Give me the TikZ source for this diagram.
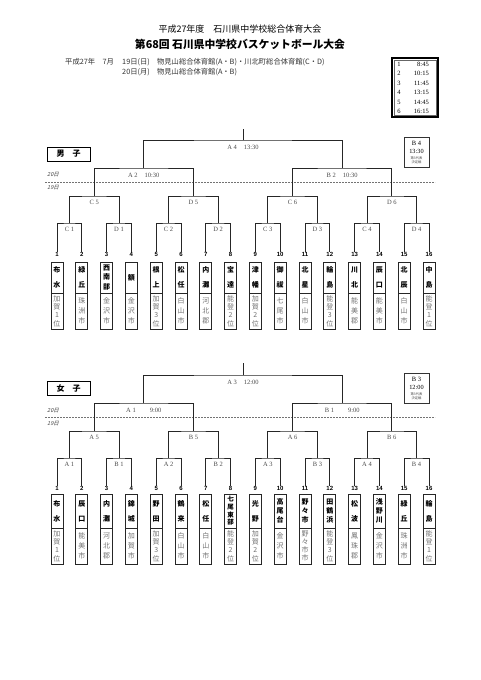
\documentclass[tikz,border=0pt]{standalone}
\usepackage{fontspec}
\setmainfont{Liberation Serif}
\newfontfamily\jp{Noto Sans CJK JP}
\newfontfamily\jpsl{Noto Sans CJK JP}[FakeSlant=0.25]
\newfontfamily\lsans{Liberation Sans}
\tikzset{
  br/.style={line width=0.8pt, draw=black!85},
  lbl/.style={font=\fontsize{6.5}{7}\selectfont, text=black!70, inner sep=0},
  num/.style={font=\lsans\bfseries\fontsize{6}{6}\selectfont, inner sep=0},
  nbox/.style={draw=black!85, line width=0.7pt, minimum width=12pt, inner sep=0, align=center, text width=10pt},
  n1/.style={font=\jp\bfseries\fontsize{7}{15}\selectfont},
  n2/.style={font=\jp\bfseries\fontsize{7}{15}\selectfont},
  n3/.style={font=\jp\bfseries\fontsize{7}{9.5}\selectfont},
  fn3/.style={font=\jp\bfseries\fontsize{7}{8.7}\selectfont},
  n4/.style={font=\jp\bfseries\fontsize{6.5}{7.6}\selectfont},
  p3/.style={font=\jp\fontsize{7}{10}\selectfont, text=black!55},
  p4/.style={font=\jp\fontsize{7}{8.3}\selectfont, text=black!55},
  daylbl/.style={font=\jpsl\fontsize{5.5}{6}\selectfont, text=black!75, inner sep=0},
  dayline/.style={draw=black!55, line width=0.5pt, dash pattern=on 2pt off 1pt},
  sexbox/.style={draw, line width=0.9pt, minimum width=43pt, minimum height=14pt, inner sep=0, font=\jp\bfseries\fontsize{8}{8}\selectfont},
  thirdbox/.style={draw=black!80, line width=0.6pt, minimum width=25pt, inner sep=0},
  tiny/.style={font=\jp\fontsize{3.3}{3.5}\selectfont, inner sep=0, text=black!70},
}
\newcommand\mteam[6]{%
  \node[num] (m#1num) at (#2,254) {#1};
  \node[nbox,#4,minimum height=31pt] (m#1n) at (#2,277.5) {#3};
  \node[nbox,#6,minimum height=36pt] (m#1p) at (#2,311) {#5};}
\newcommand\fteam[6]{%
  \node[num] (f#1num) at (#2,488) {#1};
  \node[nbox,#4,minimum height=34pt] (f#1n) at (#2,511) {#3};
  \node[nbox,#6,minimum height=36pt] (f#1p) at (#2,546) {#5};}
\begin{document}
\begin{tikzpicture}[x=1pt,y=-1pt]
\fill[white] (0,0) rectangle (481,680);
\useasboundingbox (0,0) rectangle (481,680);

% titles
\node[font=\jp\fontsize{9}{9}\selectfont] (t1) at (240,29) {平成27年度　石川県中学校総合体育大会};
\node[font=\jp\bfseries\fontsize{10.8}{11}\selectfont] (t2) at (240,44) {第68回 石川県中学校バスケットボール大会};
\node[font=\jp\fontsize{7.3}{8}\selectfont, anchor=west, inner sep=0, text=black!80] (d0) at (65,62) {平成27年　7月};
\node[font=\jp\fontsize{7.3}{8}\selectfont, anchor=west, inner sep=0, text=black!80] (d1) at (122,62) {19日(日)　物見山総合体育館(A・B)・川北町総合体育館(C・D)};
\node[font=\jp\fontsize{7.3}{8}\selectfont, anchor=west, inner sep=0, text=black!80] (d2) at (122,72) {20日(月)　物見山総合体育館(A・B)};

% time table
\draw[line width=1.3pt] (392,58) rectangle (438,117);
\draw[line width=0.4pt, black!60] (394,60) rectangle (436,115);
\foreach \r/\t [count=\k] in {1/8:45,2/10:15,3/11:45,4/13:15,5/14:45,6/16:15}{
  \node[font=\fontsize{6.5}{7}\selectfont, inner sep=0] (ttn\k) at (399,54.5+9.5*\k) {\r};
  \node[font=\fontsize{6.5}{7}\selectfont, inner sep=0, anchor=east] (ttt\k) at (429,54.5+9.5*\k) {\t};
}

% ================= MALE =================
\node[sexbox] (male) at (68.5,154) {男　子};
\node[daylbl] (m20) at (53,175) {20日};
\node[daylbl] (m19) at (53,188) {19日};
\coordinate (mdl1) at (45,182);
\coordinate (mdl2) at (435,182);
\draw[dayline] (mdl1) -- (mdl2);

\node[thirdbox, minimum height=30pt] (mB4) at (416.5,152) {};
\node[font=\fontsize{6.5}{7}\selectfont, inner sep=0] (mB4a) at (416.5,143) {B 4};
\node[font=\fontsize{6.3}{7}\selectfont, inner sep=0] (mB4b) at (416.5,151) {13:30};
\node[tiny] (mB4c) at (416.5,158.5) {第3代表};
\node[tiny] (mB4d) at (416.5,162.5) {決定戦};

\mteam{1}{57}{布\\水}{n2}{加\\賀\\1\\位}{p4}
\mteam{2}{81.8}{緑\\丘}{n2}{珠\\洲\\市}{p3}
\mteam{3}{106.6}{西\\南\\部}{n3}{金\\沢\\市}{p3}
\mteam{4}{131.4}{額}{n1}{金\\沢\\市}{p3}
\mteam{5}{156.2}{根\\上}{n2}{加\\賀\\3\\位}{p4}
\mteam{6}{181}{松\\任}{n2}{白\\山\\市}{p3}
\mteam{7}{205.8}{内\\灘}{n2}{河\\北\\郡}{p3}
\mteam{8}{230.6}{宝\\達}{n2}{能\\登\\2\\位}{p4}
\mteam{9}{255.4}{津\\幡}{n2}{加\\賀\\2\\位}{p4}
\mteam{10}{280.2}{御\\祓}{n2}{七\\尾\\市}{p3}
\mteam{11}{305}{北\\星}{n2}{白\\山\\市}{p3}
\mteam{12}{329.8}{輪\\島}{n2}{能\\登\\3\\位}{p4}
\mteam{13}{354.6}{川\\北}{n2}{能\\美\\郡}{p3}
\mteam{14}{379.4}{辰\\口}{n2}{能\\美\\市}{p3}
\mteam{15}{404.2}{北\\辰}{n2}{白\\山\\市}{p3}
\mteam{16}{429}{中\\島}{n2}{能\\登\\1\\位}{p4}

% level 1
\foreach \nm/\x/\a/\b in {C1/69.4/1/2, D1/119/3/4, C2/168.6/5/6, D2/218.2/7/8, C3/267.8/9/10, D3/317.4/11/12, C4/367/13/14, D4/416.6/15/16}{
  \coordinate (m\nm) at (\x,223);
  \draw[br] ([yshift=-0.6pt]m\a num.north) |- (m\nm) -| ([yshift=-0.6pt]m\b num.north);
}
\node[lbl] (mlC1) at (69.4,229.5) {C 1};
\node[lbl] (mlD1) at (119,229.5) {D 1};
\node[lbl] (mlC2) at (168.6,229.5) {C 2};
\node[lbl] (mlD2) at (218.2,229.5) {D 2};
\node[lbl] (mlC3) at (267.8,229.5) {C 3};
\node[lbl] (mlD3) at (317.4,229.5) {D 3};
\node[lbl] (mlC4) at (367,229.5) {C 4};
\node[lbl] (mlD4) at (416.6,229.5) {D 4};
% level 2
\foreach \nm/\x/\a/\b in {C5/94.2/C1/D1, D5/193.4/C2/D2, C6/292.6/C3/D3, D6/391.8/C4/D4}{
  \coordinate (m\nm) at (\x,196);
  \draw[br] (m\a) |- (m\nm) -| (m\b);
}
\node[lbl] (mlC5) at (94.2,202.5) {C 5};
\node[lbl] (mlD5) at (193.4,202.5) {D 5};
\node[lbl] (mlC6) at (292.6,202.5) {C 6};
\node[lbl] (mlD6) at (391.8,202.5) {D 6};
% level 3
\coordinate (mA2) at (143.8,168);
\coordinate (mB2) at (342.2,168);
\draw[br] (mC5) |- (mA2) -| (mD5);
\draw[br] (mC6) |- (mB2) -| (mD6);
\node[lbl] (mlA2) at (143.8,175) {A 2\hspace{7pt}10:30};
\node[lbl] (mlB2) at (342.2,175) {B 2\hspace{7pt}10:30};
% level 4
\coordinate (mA4) at (243,140);
\coordinate (mTop) at (243,129);
\draw[br] (mA2) |- (mA4) -| (mB2);
\draw[br] (mA4) -- (mTop);
\node[lbl] (mlA4) at (243,147.5) {A 4\hspace{7pt}13:30};

% ================= FEMALE =================
\node[sexbox] (female) at (68.5,388) {女　子};
\node[daylbl] (f20) at (53,411) {20日};
\node[daylbl] (f19) at (53,424) {19日};
\coordinate (fdl1) at (45,417);
\coordinate (fdl2) at (435,417);
\draw[dayline] (fdl1) -- (fdl2);

\node[thirdbox, minimum height=30pt] (fB3) at (416.5,388) {};
\node[font=\fontsize{6.5}{7}\selectfont, inner sep=0] (fB3a) at (416.5,379) {B 3};
\node[font=\fontsize{6.3}{7}\selectfont, inner sep=0] (fB3b) at (416.5,387) {12:00};
\node[tiny] (fB3c) at (416.5,394.5) {第3代表};
\node[tiny] (fB3d) at (416.5,398.5) {決定戦};

\fteam{1}{57}{布\\水}{n2}{加\\賀\\1\\位}{p4}
\fteam{2}{81.8}{辰\\口}{n2}{能\\美\\市}{p3}
\fteam{3}{106.6}{内\\灘}{n2}{河\\北\\郡}{p3}
\fteam{4}{131.4}{錦\\城}{n2}{加\\賀\\市}{p3}
\fteam{5}{156.2}{野\\田}{n2}{加\\賀\\3\\位}{p4}
\fteam{6}{181}{鶴\\来}{n2}{白\\山\\市}{p3}
\fteam{7}{205.8}{松\\任}{n2}{白\\山\\市}{p3}
\fteam{8}{230.6}{七\\尾\\東\\部}{n4}{能\\登\\2\\位}{p4}
\fteam{9}{255.4}{光\\野}{n2}{加\\賀\\2\\位}{p4}
\fteam{10}{280.2}{高\\尾\\台}{fn3}{金\\沢\\市}{p3}
\fteam{11}{305}{野\\々\\市}{fn3}{野\\々\\市\\市}{p4}
\fteam{12}{329.8}{田\\鶴\\浜}{fn3}{能\\登\\3\\位}{p4}
\fteam{13}{354.6}{松\\波}{n2}{鳳\\珠\\郡}{p3}
\fteam{14}{379.4}{浅\\野\\川}{fn3}{金\\沢\\市}{p3}
\fteam{15}{404.2}{緑\\丘}{n2}{珠\\洲\\市}{p3}
\fteam{16}{429}{輪\\島}{n2}{能\\登\\1\\位}{p4}

% level 1
\foreach \nm/\x/\a/\b in {A1/69.4/1/2, B1/119/3/4, A2/168.6/5/6, B2/218.2/7/8, A3/267.8/9/10, B3/317.4/11/12, A4/367/13/14, B4/416.6/15/16}{
  \coordinate (f\nm) at (\x,458);
  \draw[br] ([yshift=-0.6pt]f\a num.north) |- (f\nm) -| ([yshift=-0.6pt]f\b num.north);
}
\node[lbl] (flA1) at (69.4,464.5) {A 1};
\node[lbl] (flB1) at (119,464.5) {B 1};
\node[lbl] (flA2) at (168.6,464.5) {A 2};
\node[lbl] (flB2) at (218.2,464.5) {B 2};
\node[lbl] (flA3) at (267.8,464.5) {A 3};
\node[lbl] (flB3) at (317.4,464.5) {B 3};
\node[lbl] (flA4) at (367,464.5) {A 4};
\node[lbl] (flB4) at (416.6,464.5) {B 4};
% level 2
\foreach \nm/\x/\a/\b in {A5/94.2/A1/B1, B5/193.4/A2/B2, A6/292.6/A3/B3, B6/391.8/A4/B4}{
  \coordinate (f\nm) at (\x,431);
  \draw[br] (f\a) |- (f\nm) -| (f\b);
}
\node[lbl] (flA5) at (94.2,437.5) {A 5};
\node[lbl] (flB5) at (193.4,437.5) {B 5};
\node[lbl] (flA6) at (292.6,437.5) {A 6};
\node[lbl] (flB6) at (391.8,437.5) {B 6};
% level 3
\coordinate (fSA1) at (143.8,403);
\coordinate (fSB1) at (342.2,403);
\draw[br] (fA5) |- (fSA1) -| (fB5);
\draw[br] (fA6) |- (fSB1) -| (fB6);
\node[lbl] (flSA1) at (143.8,410.5) {A 1\hspace{14pt}9:00};
\node[lbl] (flSB1) at (342.2,410.5) {B 1\hspace{14pt}9:00};
% level 4
\coordinate (fA3top) at (243,375);
\coordinate (fTop) at (243,363);
\draw[br] (fSA1) |- (fA3top) -| (fSB1);
\draw[br] (fA3top) -- (fTop);
\node[lbl] (flA3top) at (243,382.5) {A 3\hspace{7pt}12:00};
\end{tikzpicture}
\end{document}
